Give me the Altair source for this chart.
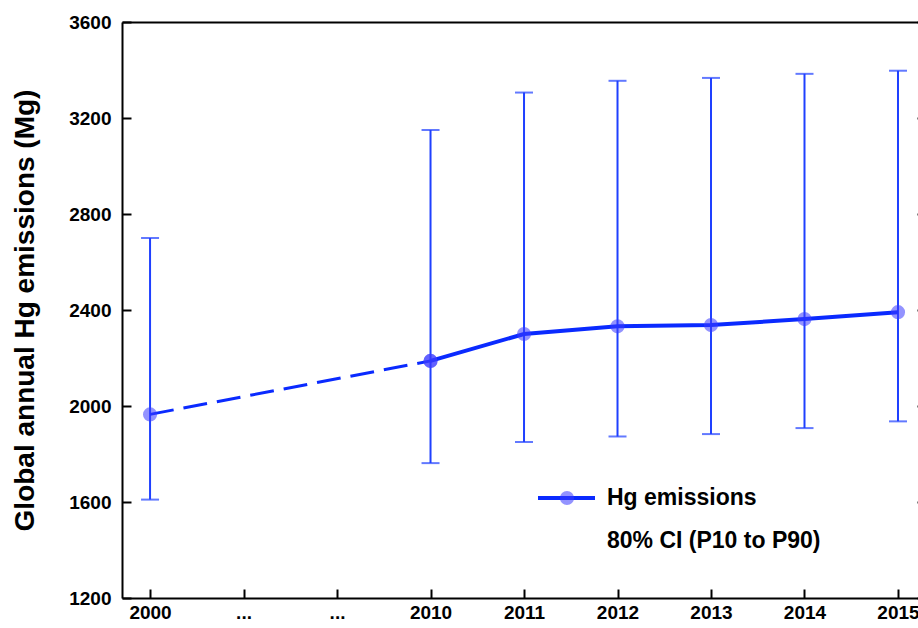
import json
import altair as alt
import pandas as pd

# ---- data ----
tick_labels = ["2000", "...", "...", "2010", "2011", "2012", "2013", "2014", "2015"]
positions = [0, 3, 4, 5, 6, 7, 8]
year_labels = ["2000", "2010", "2011", "2012", "2013", "2014", "2015"]
emissions = [1965, 2188, 2300, 2332, 2337, 2362, 2391]
p10 = [1610, 1762, 1850, 1873, 1883, 1908, 1936]
p90 = [2700, 3150, 3306, 3355, 3367, 3384, 3397]
y_ticks = [1200, 1600, 2000, 2400, 2800, 3200, 3600]

df = pd.DataFrame({"pos": positions, "year": year_labels, "hg": emissions,
                   "p10": p10, "p90": p90})
dashed_df = df[df["year"].isin(["2000", "2010"])]
solid_df = df[df["pos"] >= 3]

FONT = "Liberation Sans"
LINE = "#0a2aff"
BAR = "#1f40ff"
MARK = "#3b3bff"

xs = alt.Scale(domain=[-0.3, 8.214], nice=False, zero=False)
ys = alt.Scale(domain=[1200, 3600], nice=False, zero=False)

x_axis = alt.Axis(values=list(range(len(tick_labels))),
                  labelExpr=json.dumps(tick_labels) + "[datum.value]",
                  tickSize={"expr": "-9"}, labelPadding=14, title=None,
                  labelFontSize=19)
y_axis = alt.Axis(values=y_ticks, format="d", tickSize={"expr": "-9"}, labelPadding=20,
                  title="Global annual Hg emissions (Mg)", titleFontSize=28,
                  titleFontWeight="bold", titleFont=FONT, titleColor="black",
                  titleX=-89, titleY=288, titleBaseline="alphabetic",
                  labelFontSize=19)

bars = alt.Chart(df).mark_rule(color=BAR, strokeWidth=2).encode(
    x=alt.X("pos:Q", scale=xs, axis=x_axis),
    y=alt.Y("p10:Q", scale=ys, axis=y_axis),
    y2="p90:Q",
)
cap_lo = alt.Chart(df).mark_tick(color=BAR, thickness=2, size=18, orient="horizontal").encode(
    x=alt.X("pos:Q", scale=xs, axis=None),
    y=alt.Y("p10:Q", scale=ys, axis=None),
)
cap_hi = alt.Chart(df).mark_tick(color=BAR, thickness=2, size=18, orient="horizontal").encode(
    x=alt.X("pos:Q", scale=xs, axis=None),
    y=alt.Y("p90:Q", scale=ys, axis=None),
)
dashed = alt.Chart(dashed_df).mark_line(color=LINE, strokeWidth=3, strokeDash=[24, 10]).encode(
    x=alt.X("pos:Q", scale=xs, axis=None),
    y=alt.Y("hg:Q", scale=ys, axis=None),
)
solid = alt.Chart(solid_df).mark_line(color=LINE, strokeWidth=4).encode(
    x=alt.X("pos:Q", scale=xs, axis=None),
    y=alt.Y("hg:Q", scale=ys, axis=None),
)
pts1 = alt.Chart(dashed_df).mark_point(filled=True, shape="circle", size=200,
                                       color=MARK, opacity=0.55).encode(
    x=alt.X("pos:Q", scale=xs, axis=None),
    y=alt.Y("hg:Q", scale=ys, axis=None),
)
pts2 = alt.Chart(solid_df).mark_point(filled=True, shape="circle", size=200,
                                      color=MARK, opacity=0.55).encode(
    x=alt.X("pos:Q", scale=xs, axis=None),
    y=alt.Y("hg:Q", scale=ys, axis=None),
)

# frame: top line and right-hand inward ticks
frame = alt.Chart(df).mark_point(opacity=0).encode(
    x=alt.X("pos:Q", scale=xs,
            axis=alt.Axis(orient="top", ticks=False, labels=False, title=None)),
    y=alt.Y("hg:Q", scale=ys,
            axis=alt.Axis(orient="right", values=y_ticks, labels=False, title=None,
                          tickSize={"expr": "-9"}, offset=8)),
)

# legend
leg = pd.DataFrame({"a": [0]})
leg_line = alt.Chart(leg).mark_rule(color=LINE, strokeWidth=4).encode(
    x=alt.value(416), x2=alt.value(473), y=alt.value(476))
leg_pt = alt.Chart(leg).mark_point(filled=True, shape="circle", size=200,
                                   color=MARK, opacity=0.55).encode(
    x=alt.value(445), y=alt.value(476))
leg_t1 = alt.Chart(leg).mark_text(text="Hg emissions", align="left", baseline="middle",
                                  font=FONT, fontWeight="bold", fontSize=23,
                                  color="black").encode(
    x=alt.value(485), y=alt.value(476))
leg_t2 = alt.Chart(leg).mark_text(text="80% CI (P10 to P90)", align="left", baseline="middle",
                                  font=FONT, fontWeight="bold", fontSize=23,
                                  color="black").encode(
    x=alt.value(485), y=alt.value(519))

chart = alt.layer(
    bars, cap_lo, cap_hi, dashed, solid, pts1, pts2, leg_line, leg_pt, leg_t1, leg_t2, frame
).resolve_axis(x="independent", y="independent").properties(
    width=796, height=576,
    autosize=alt.AutoSizeParams(type="none"),
    padding={"left": 122, "top": 22, "right": 0, "bottom": 30},
).configure_view(stroke=None).configure_axis(
    labelFont=FONT, labelFontWeight="bold", labelColor="black",
    domainColor="black", domainWidth=2, tickColor="black", tickWidth=2,
    grid=False, titleFont=FONT,
)

chart.save("out.html", embed_options={"renderer": "svg", "actions": False})
